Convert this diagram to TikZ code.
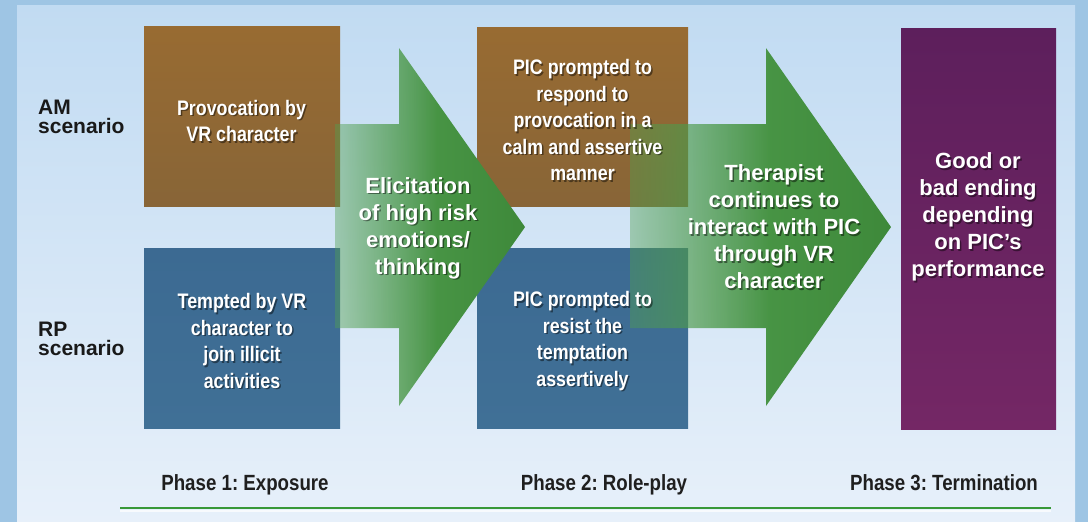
\documentclass[tikz,border=0pt]{standalone}
\usepackage{fontspec}
\setmainfont{Liberation Sans}
\newfontfamily\narrowsf{Liberation Sans}[FakeStretch=0.85]
\usetikzlibrary{fadings}
\frenchspacing

\definecolor{frameblue}{RGB}{158,197,228}
\definecolor{skytop}{RGB}{193,219,242}
\definecolor{skybot}{RGB}{231,240,250}
\definecolor{amtop}{RGB}{152,107,50}
\definecolor{ambot}{RGB}{136,101,55}
\definecolor{rptop}{RGB}{60,106,146}
\definecolor{rpbot}{RGB}{64,112,150}
\definecolor{endtop}{RGB}{93,31,92}
\definecolor{endbot}{RGB}{116,39,101}
\definecolor{arrowlt}{RGB}{82,160,80}
\definecolor{arrowdk}{RGB}{62,137,58}
\definecolor{rulegreen}{RGB}{56,152,56}

% arrows fade in from the left
\pgfdeclarehorizontalshading{arrowmask}{100bp}{color(0bp)=(black); color(6bp)=(black); color(52bp)=(white); color(100bp)=(white)}
\pgfdeclarefading{arrowfade}{\pgfuseshading{arrowmask}}

\tikzset{
    stage/.style={inner sep=0pt, outer sep=0pt},
    boxtext/.style={text=white, align=center, inner sep=0pt,
        font=\narrowsf\bfseries\fontsize{21}{26.5}\selectfont},
    arrowtext/.style={text=white, align=center, inner sep=0pt,
        font=\bfseries\fontsize{22}{27}\selectfont},
    scenario/.style={text=black!90, align=left, inner sep=0pt, anchor=west,
        font=\bfseries\fontsize{21}{19}\selectfont},
    phase/.style={text=black!88, inner sep=0pt, anchor=base,
        font=\narrowsf\bfseries\fontsize{22}{26}\selectfont},
    bigarrow/.style={left color=arrowlt, right color=arrowdk,
        path fading=arrowfade, fit fading=true},
}

% white text with a soft dark shadow; #1 is x,y
\newcommand{\shadowtext}[4]{%
    \node[#3, text=black, opacity=0.45] at ([shift={(1.5,1.5)}]#1) {#4};
    \node[#3] (#2) at (#1) {#4};
}

\begin{document}
\begin{tikzpicture}[x=1pt, y=-1pt]
    \useasboundingbox (0,0) rectangle (1088,522);

    % frame and panel
    \fill[frameblue] (0,0) rectangle (1088,522);
    \shade[top color=skytop, bottom color=skybot] (17,5) rectangle (1075,522);

    % stage boxes
    \node[stage, minimum width=196, minimum height=180, top color=amtop, bottom color=ambot] (am1) at (242,116.5) {};
    \node[stage, minimum width=196, minimum height=180, top color=rptop, bottom color=rpbot] (rp1) at (242,338) {};
    \node[stage, minimum width=211, minimum height=179, top color=amtop, bottom color=ambot] (am2) at (582.5,116.5) {};
    \node[stage, minimum width=211, minimum height=180, top color=rptop, bottom color=rpbot] (rp2) at (582.5,338) {};
    \node[stage, minimum width=155, minimum height=401, top color=endtop, bottom color=endbot] (ending) at (978.5,228.5) {};

    % block arrows
    \shade[bigarrow] (335,124) -- (399,124) -- (399,48) -- (525,227)
        -- (399,406) -- (399,328) -- (335,328) -- cycle;
    \shade[bigarrow] (630,124) -- (766,124) -- (766,48) -- (891,227)
        -- (766,406) -- (766,328) -- (630,328) -- cycle;

    % texts
    \shadowtext{241.5,121}{am1-t}{boxtext}{Provocation by\\VR character}
    \shadowtext{242,341}{rp1-t}{boxtext}{Tempted by VR\\character to\\join illicit\\activities}
    \shadowtext{582.5,120}{am2-t}{boxtext}{PIC prompted to\\respond to\\provocation in a\\calm and assertive\\manner}
    \shadowtext{582.5,341}{rp2-t}{boxtext}{PIC prompted to\\resist the\\temptation\\assertively}
    \shadowtext{418,228}{elicit}{arrowtext}{Elicitation\\of high risk\\emotions/\\thinking}
    \shadowtext{774,227}{therapist}{arrowtext}{Therapist\\continues to\\interact with PIC\\through VR\\character}
    \shadowtext{978,217}{ending-t}{arrowtext}{Good or\\bad ending\\depending\\on PIC’s\\performance}

    \node[scenario] (am) at (38,116.5) {AM\\scenario};
    \node[scenario] (rp) at (38,339) {RP\\scenario};

    \node[phase] (ph1) at (245,490) {Phase 1: Exposure};
    \node[phase] (ph2) at (604,490) {Phase 2: Role-play};
    \node[phase] (ph3) at (944,490) {Phase 3: Termination};

    % rule under the phases
    \draw[white, opacity=0.7, line width=1.5pt] (120,511) -- (1051,511);
    \draw[rulegreen, line width=2.8pt] (120,508) -- (1051,508);
\end{tikzpicture}
\end{document}
